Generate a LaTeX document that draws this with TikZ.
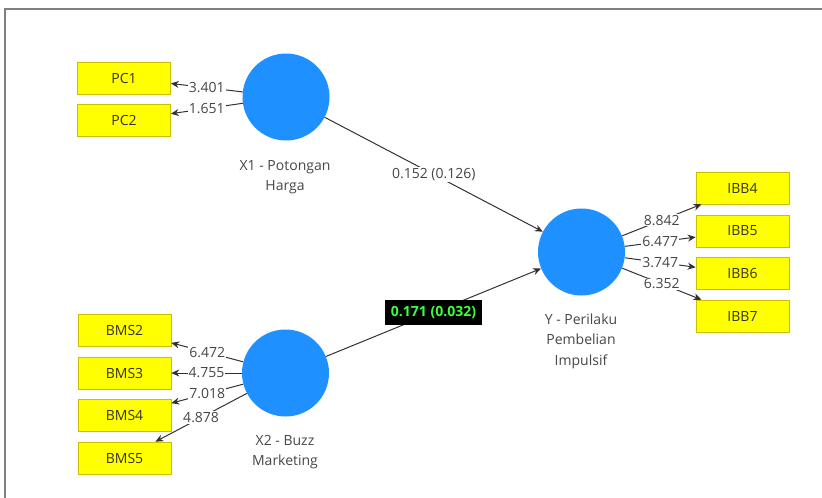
\documentclass[tikz,border=0pt]{standalone}
\usepackage{fontspec}
\setmainfont{Open Sans}
\usetikzlibrary{arrows.meta}
\definecolor{lvblue}{RGB}{30,144,255}
\definecolor{indyellow}{RGB}{255,255,0}
\definecolor{indborder}{RGB}{205,190,0}
\definecolor{txtgray}{RGB}{70,70,70}
\definecolor{edgegray}{RGB}{50,50,50}
\definecolor{framegray}{RGB}{128,128,128}
\definecolor{sigGreen}{RGB}{60,255,60}
\begin{document}
\begin{tikzpicture}[x=1pt,y=-1pt,
  font=\fontsize{14}{16}\selectfont,
  latent/.style={circle,fill=lvblue,draw=none,minimum size=87pt,inner sep=0pt},
  indbox/.style={rectangle,fill=indyellow,draw=indborder,line width=0.6pt,minimum width=93pt,minimum height=32pt,inner sep=0pt,text=black!80},
  lvlabel/.style={align=center,text=txtgray,font=\fontsize{14}{20.5}\selectfont},
  conn/.style={draw=edgegray,line width=1pt,-{Stealth[length=8pt,width=7pt]}},
  wlabel/.style={fill=white,inner sep=1pt,text=txtgray,pos=0.5},
  siglabel/.style={fill=black,text=sigGreen,font=\fontsize{14}{16}\selectfont\bfseries,inner xsep=6pt,inner ysep=6pt,pos=0.5}
]
\useasboundingbox (0,0) rectangle (822,498);
\draw[framegray,line width=2pt] (822,9) -- (5,9) -- (5,498);

% latent variables
\node[latent] (x1) at (286,97) {};
\node[latent] (x2) at (285.5,373) {};
\node[latent] (y) at (581.5,252) {};

\node[lvlabel] (x1l) at (285,177) {X1 - Potongan\\Harga};
\node[lvlabel] (x2l) at (285,452) {X2 - Buzz\\Marketing};
\node[lvlabel] (yl) at (581,341) {Y - Perilaku\\Pembelian\\Impulsif};

% indicators
\node[indbox] (pc1) at (124,78) {PC1};
\node[indbox] (pc2) at (124,120.5) {PC2};
\node[indbox] (bms2) at (124.5,330.5) {BMS2};
\node[indbox] (bms3) at (124.5,373) {BMS3};
\node[indbox] (bms4) at (124.5,415.5) {BMS4};
\node[indbox] (bms5) at (124.5,458) {BMS5};
\node[indbox] (ibb4) at (742.5,188) {IBB4};
\node[indbox] (ibb5) at (742.5,231) {IBB5};
\node[indbox] (ibb6) at (742.5,273.5) {IBB6};
\node[indbox] (ibb7) at (742.5,316) {IBB7};

% outer loadings
\draw[conn] (x1) -- node[wlabel] {3.401} (pc1);
\draw[conn] (x1) -- node[wlabel] {1.651} (pc2);
\draw[conn] (x2) -- node[wlabel] {6.472} (bms2);
\draw[conn] (x2) -- node[wlabel] {4.755} (bms3);
\draw[conn] (x2) -- node[wlabel] {7.018} (bms4);
\draw[conn] (x2) -- node[wlabel] {4.878} (bms5);
\draw[conn] (y) -- node[wlabel] {8.842} (ibb4);
\draw[conn] (y) -- node[wlabel] {6.477} (ibb5);
\draw[conn] (y) -- node[wlabel] {3.747} (ibb6);
\draw[conn] (y) -- node[wlabel] {6.352} (ibb7);

% structural paths
\draw[conn] (x1) -- node[wlabel] {0.152 (0.126)} (y);
\draw[conn] (x2) -- node[siglabel] {0.171 (0.032)} (y);
\end{tikzpicture}
\end{document}
